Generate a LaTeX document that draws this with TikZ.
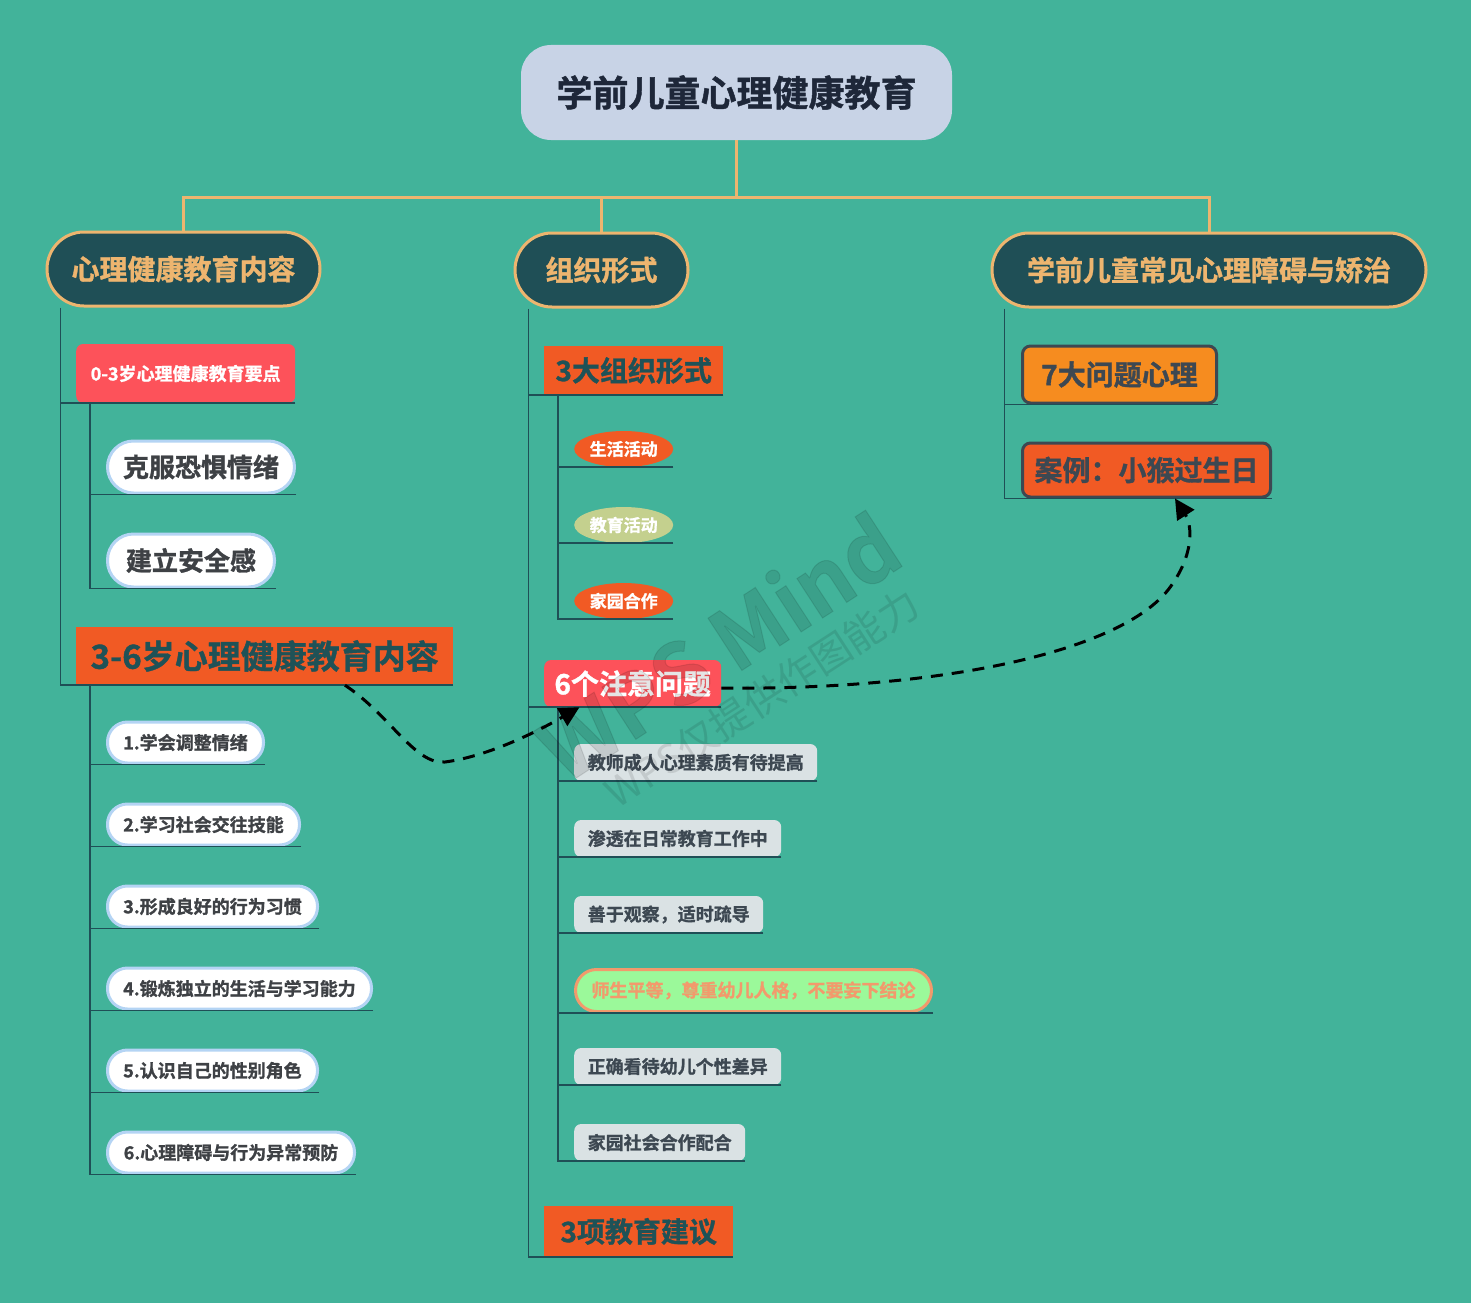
\documentclass[tikz,border=0pt]{standalone}
\usepackage{fontspec}
\setmainfont{Noto Sans CJK SC}[BoldFont={Noto Sans CJK SC Bold}, BoldFeatures={FakeBold=1.2}]
\usetikzlibrary{shapes.geometric,arrows.meta}
\definecolor{bgteal}{HTML}{42B39A}
\definecolor{rootblue}{HTML}{C8D3E6}
\definecolor{rootink}{HTML}{1E2739}
\definecolor{deepteal}{HTML}{1F4F56}
\definecolor{sand}{HTML}{EDB56F}
\definecolor{coral}{HTML}{FD525A}
\definecolor{flame}{HTML}{F15A24}
\definecolor{deepink}{HTML}{1F5257}
\definecolor{charcoal}{HTML}{3E4145}
\definecolor{skyline}{HTML}{B4D4F4}
\definecolor{mist}{HTML}{DAE2E4}
\definecolor{slate}{HTML}{3D4852}
\definecolor{mint}{HTML}{9BF99A}
\definecolor{salmon}{HTML}{F29A6C}
\definecolor{amber}{HTML}{F68C1F}
\definecolor{sage}{HTML}{C4D08E}
\begin{document}
\begin{tikzpicture}[x = 1pt, y = -1pt,
  fs/.style = {font = \bfseries\fontsize{#1}{#1}\selectfont},
  root/.style = {fill = rootblue, text = rootink, rounded corners = 30pt, minimum width = 431pt, minimum height = 95pt, fs = 36},
  topic/.style = {fill = deepteal, draw = sand, line width = 3pt, text = sand, minimum height = 74pt, rounded corners = 37pt, fs = 28},
  redbox/.style = {fill = coral, text = white, rounded corners = 7pt},
  flamebox/.style = {fill = flame, text = deepink},
  pill/.style = {fill = white, draw = skyline, line width = 3pt, text = charcoal, rounded corners = 20pt, minimum height = 41pt, fs = 18},
  oval/.style = {ellipse, minimum width = 99pt, minimum height = 36pt, inner sep = 0pt, text = white, fs = 17},
  tip/.style = {fill = mist, text = slate, rounded corners = 7pt, minimum height = 37pt, fs = 18},
  hint/.style = {fill = mint, draw = salmon, line width = 3pt, text = salmon, rounded corners = 21pt, minimum height = 42pt, fs = 18},
  issue/.style = {draw = slate, line width = 3pt, text = slate, rounded corners = 8pt, minimum height = 55pt, fs = 28},
  branch/.style = {draw = sand, line width = 3pt},
  tree/.style = {draw = deepteal, line width = 1.6pt},
  link/.style = {draw = black, line width = 3pt, dash pattern = on 12pt off 9pt, -{Triangle[length = 20pt, width = 20pt]}}
]
\fill[bgteal] (0,0) rectangle (1471,1303);
\useasboundingbox (0,0) rectangle (1471,1303);

% root and main topics
\node[root] (root) at (736.5,92.5) {学前儿童心理健康教育};
\node[topic, minimum width = 273pt] (content) at (183.5,269) {心理健康教育内容};
\node[topic, minimum width = 173pt] (form) at (601.5,270) {组织形式};
\node[topic, minimum width = 434pt] (disorder) at (1209,270) {学前儿童常见心理障碍与矫治};
\coordinate (bus) at ([yshift = -57pt]root.south);
\draw[branch] (root.south) -- (bus);
\draw[branch] (content.north) |- (bus) -| (disorder.north);
\draw[branch] (form.north) |- (bus);

% left branch
\node[redbox, fs = 18, minimum width = 219pt, minimum height = 59pt, anchor = west] (age03) at (76,373.5) {0-3岁心理健康教育要点};
\node[pill, fs = 26, minimum width = 187pt, minimum height = 52pt, rounded corners = 26pt, anchor = west] (fear) at (106,467) {克服恐惧情绪};
\node[pill, fs = 26, minimum width = 167pt, minimum height = 53pt, rounded corners = 26pt, anchor = west] (safe) at (106,560.5) {建立安全感};
\node[flamebox, fs = 33, minimum width = 377pt, minimum height = 58pt, anchor = west] (age36) at (76,656) {3-6岁心理健康教育内容};
\foreach \i/\w/\txt in {1/156/1.学会调整情绪, 2/192/2.学习社会交往技能, 3/210/3.形成良好的行为习惯,
  4/264/4.锻炼独立的生活与学习能力, 5/210/5.认识自己的性别角色, 6/247/6.心理障碍与行为异常预防}
  \node[pill, minimum width = \w pt, anchor = west] (skill\i) at (106, 660.5 + 82*\i) {\txt};

\coordinate (ltrunk) at ([xshift = 15pt]content.south west);
\coordinate (lsub) at ([xshift = 14pt]age03.south west);
\coordinate (lsubb) at ([xshift = 14pt]age36.south west);
\draw[tree] (ltrunk) |- (age36.south east);
\draw[tree] (age03.south east) -- (age03.south east -| ltrunk);
\draw[tree] (lsub) |- (safe.south east);
\draw[tree] (fear.south east) -- (fear.south east -| lsub);
\draw[tree] (lsubb) |- (skill6.south east);
\foreach \i in {1,...,5}
  \draw[tree] (skill\i.south east) -- (skill\i.south east -| lsubb);

% middle branch
\node[flamebox, fs = 28, minimum width = 179pt, minimum height = 49pt, anchor = west] (forms) at (544,370.5) {3大组织形式};
\foreach \i/\col/\txt in {1/flame/生活活动, 2/sage/教育活动, 3/flame/家园合作}
  \node[oval, fill = \col, anchor = west] (act\i) at (574, 373 + 76*\i) {\txt};
\node[redbox, fs = 28, minimum width = 177pt, minimum height = 47pt, anchor = west] (notice) at (544,683.5) {6个注意问题};
\foreach \i/\w/\sty/\txt in {1/243/tip/教师成人心理素质有待提高, 2/207/tip/渗透在日常教育工作中,
  3/189/tip/善于观察，适时疏导, 4/356/hint/师生平等，尊重幼儿人格，不要妄下结论,
  5/207/tip/正确看待幼儿个性差异, 6/171/tip/家园社会合作配合}
  \node[\sty, minimum width = \w pt, anchor = west] (tip\i) at (574, 686.5 + 76*\i) {\txt};
\node[flamebox, fs = 28, minimum width = 189pt, minimum height = 51pt, anchor = west] (advice) at (544,1231.5) {3项教育建议};

\coordinate (mtrunk) at ([xshift = 15pt]form.south west);
\coordinate (msub) at ([xshift = 14pt]forms.south west);
\coordinate (msubb) at ([xshift = 14pt]notice.south west);
\draw[tree] (mtrunk) |- (advice.south east);
\draw[tree] (forms.south east) -- (forms.south east -| mtrunk);
\draw[tree] (notice.south east) -- (notice.south east -| mtrunk);
\draw[tree] (msub) |- (act3.south -| act3.east);
\foreach \i in {1,2}
  \draw[tree] (act\i.south -| act\i.east) -- (act\i.south -| msub);
\draw[tree] (msubb) |- (tip6.south east);
\foreach \i in {1,...,5}
  \draw[tree] (tip\i.south east) -- (tip\i.south east -| msubb);

% right branch
\node[issue, fill = amber, minimum width = 194pt, minimum height = 57pt, anchor = west] (prob7) at (1021,374.5) {7大问题心理};
\node[issue, fill = flame, minimum width = 248pt, minimum height = 54pt, anchor = west] (case) at (1021,470) {案例：小猴过生日};
\coordinate (rtrunk) at ([xshift = 14pt]disorder.south west);
\draw[tree] (rtrunk) |- (case.south east);
\draw[tree] (prob7.south east) -- (prob7.south east -| rtrunk);

% dashed links
\draw[link] (age36.-20) .. controls (390,715) and (415,765) .. (445,762)
  .. controls (490,756) and (540,730) .. (notice.-156);
\draw[link] (notice.-3) .. controls (950,690) and (1120,650) .. (1168,590)
  .. controls (1195,555) and (1192,525) .. (case.-45);

% watermark
\node[rotate = 33, opacity = 0.1, text = black, fs = 84] (wm) at (718,646) {WPS Mind};
\node[rotate = 33, opacity = 0.1, text = black, font = \fontsize{40}{40}\selectfont] (wmnote) at (762,698) {WPS仅提供作图能力};
\end{tikzpicture}
\end{document}
